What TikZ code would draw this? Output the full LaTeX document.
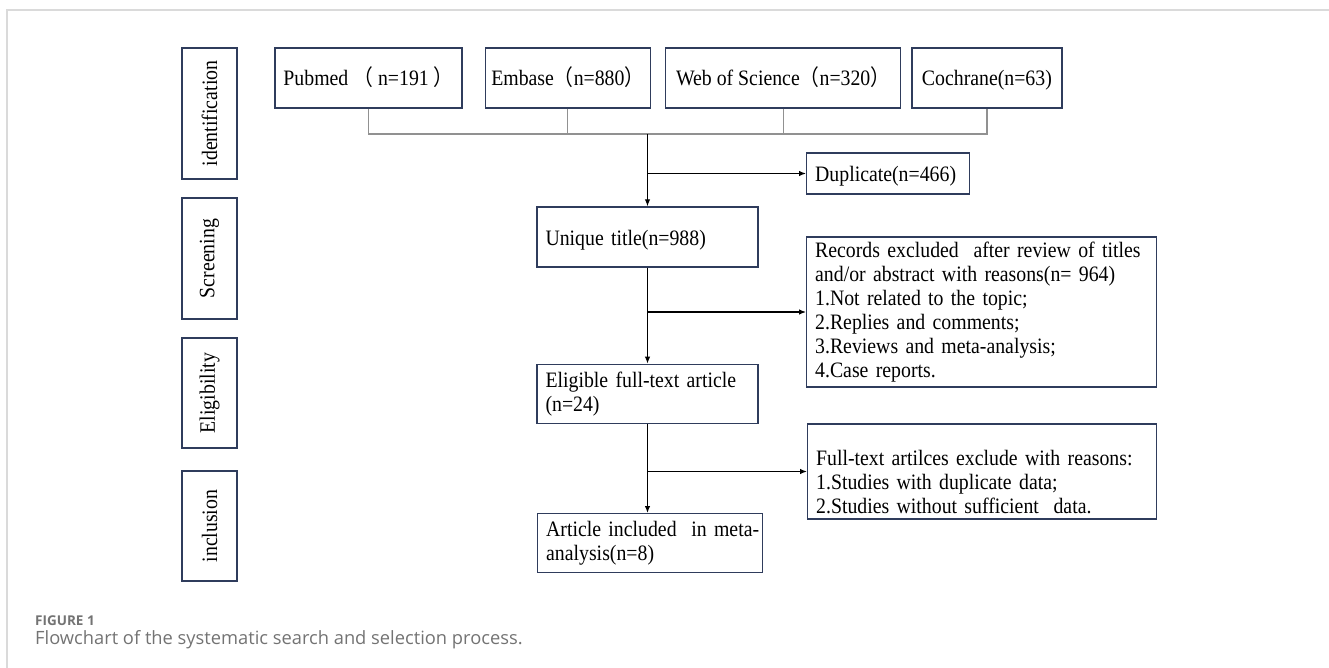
\documentclass[tikz,border=0pt]{standalone}
\usepackage{fontspec}
\setmainfont[FakeStretch=0.9]{Liberation Serif}
\newfontfamily\cjk[FakeStretch=0.9]{Noto Sans CJK SC}
\newfontfamily\capfont{Open Sans}
\usepackage{tikz}
\usetikzlibrary{arrows.meta, positioning}
\definecolor{boxblue}{RGB}{47,60,92}
\definecolor{busgray}{RGB}{145,145,145}
\definecolor{framegray}{RGB}{218,218,218}
\definecolor{capgray}{RGB}{115,115,115}
\newcommand{\fwlp}{{\cjk （}}
\newcommand{\fwrp}{{\cjk ）}}
\tikzstyle{line} = [draw, -{Latex[length=7pt,width=5.5pt]}, line width=1.2pt]
\tikzstyle{bus} = [draw=busgray, line width=1.2pt]
\tikzstyle{phase} = [rectangle, draw=boxblue, line width=1.3pt, rotate=90,
  minimum height=55pt, inner sep=0pt]
\tikzstyle{source} = [rectangle, draw=boxblue, line width=1.3pt,
  minimum height=60pt, inner sep=0pt, text height=16pt, text depth=0pt]
\tikzstyle{stepbox} = [rectangle, draw=boxblue, line width=1.3pt, align=left,
  inner xsep=8.5pt, inner ysep=0pt]
\tikzstyle{oneline} = [text height=16pt, text depth=0pt]

\begin{document}
\begin{tikzpicture}[x=1pt, y=-1pt, font=\fontsize{22}{24}\selectfont]
    \useasboundingbox (0,0) rectangle (1329,668);
    \draw [framegray, line width=1.2pt] (1329,10) -- (7,10) -- (7,668);

    % stages on the left
    \node [phase, minimum width=131pt] (identphase) at (209.5,113.5) {identification};
    \node [phase, minimum width=121pt] (screenphase) at (209.5,258.5) {Screening};
    \node [phase, minimum width=110pt] (eligphase) at (209.5,393) {Eligibility};
    \node [phase, minimum width=110pt] (inclphase) at (209.5,526) {inclusion};

    % databases
    \node [source, minimum width=187pt] (pubmed) at (368.5,78) {Pubmed \fwlp\ n=191 \fwrp};
    \node [source, minimum width=165pt, right=22pt of pubmed] (embase) {Embase\fwlp n=880\fwrp};
    \node [source, minimum width=235pt, right=14pt of embase] (wos) {Web of Science\fwlp n=320\fwrp};
    \node [source, minimum width=150pt, right=10pt of wos] (cochrane) {Cochrane(n=63)};

    % main flow
    \node [stepbox, oneline, text width=204pt, minimum height=60pt] (unique) at (647.5,237) {Unique title(n=988)};
    \node [stepbox, oneline, text width=146pt, minimum height=41pt, anchor=west] (dup) at (806,173.5) {Duplicate(n=466)};
    \node [stepbox, text width=204pt, minimum height=59pt, below=96pt of unique] (eligible) {Eligible full-text article\\(n=24)};
    \node [stepbox, text width=208pt, minimum height=59pt, anchor=north west] (article) at (537,513) {\mbox{Article included~ in meta-}\\analysis(n=8)};

    % exclusions
    \node [stepbox, text width=333pt, minimum height=150pt, anchor=west] (records) at (806,312)
      {\mbox{Records excluded~ after review of titles}\\and/or abstract with reasons(n= 964)\\1.Not related to the topic;\\2.Replies and comments;\\3.Reviews and meta-analysis;\\4.Case reports.};
    \node [stepbox, text width=332pt, minimum height=95pt, text height=37pt, anchor=west] (fulltext) at (807,471.5)
      {Full-text artilces exclude with reasons:\\1.Studies with duplicate data;\\2.Studies without sufficient~ data.};

    \coordinate (bus) at (0,134);
    \coordinate (join) at (unique.north |- bus);
    \coordinate (split1) at (unique.north |- dup.west);
    \coordinate (split2) at (unique.south |- records.west);
    \coordinate (split3) at (eligible.south |- fulltext.west);

    \path [bus] (pubmed.south) -- (pubmed.south |- bus) -- (cochrane.south |- bus) -- (cochrane.south);
    \path [bus] (embase.south) -- (embase.south |- bus);
    \path [bus] (wos.south) -- (wos.south |- bus);

    \path [line] (join) -- (unique);
    \path [line] (split1) -- (dup);
    \path [line] (unique) -- (eligible);
    \path [line] (split2) -- (records);
    \path [line] (eligible) -- (eligible |- article.north);
    \path [line] (split3) -- (fulltext);

    % caption
    \node [anchor=base west, inner sep=0pt, text=capgray, font=\capfont\bfseries\fontsize{13.5}{15}\selectfont] (figlabel) at (35,625) {FIGURE 1};
    \node [anchor=base west, inner sep=0pt, text=capgray, font=\capfont\fontsize{18.3}{21}\selectfont] (figtitle) at (35,644) {Flowchart of the systematic search and selection process.};
\end{tikzpicture}
\end{document}
